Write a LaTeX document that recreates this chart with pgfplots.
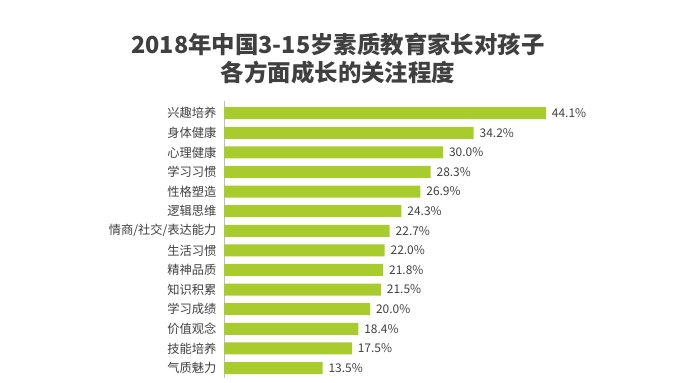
\documentclass[border=0pt]{standalone}
\usepackage{pgfplots}
\pgfplotsset{compat=1.18}
\usepackage{fontspec}
\setmainfont{Noto Sans CJK SC}
\definecolor{barg}{RGB}{168,204,46}
\definecolor{txt}{RGB}{64,64,64}
\definecolor{axg}{RGB}{191,191,191}
\pgfplotstableread{
y v
0 13.5
1 17.5
2 18.4
3 20.0
4 21.5
5 21.8
6 22.0
7 22.7
8 24.3
9 26.9
10 28.3
11 30.0
12 34.2
13 44.1
}\datatab
\begin{document}
\begin{tikzpicture}[x=1bp,y=1bp]
\path[use as bounding box] (0,0) rectangle (677,382);
\node[font=\bfseries\fontsize{23.5}{27.5}\selectfont, align=center, text=txt] at (338,323.5) {2018年中国3-15岁素质教育家长对孩子\\各方面成长的关注程度};
\begin{axis}[
  at={(224bp,4.2bp)}, anchor=south west,
  scale only axis, width=365bp, height=276.4bp,
  xmin=0, xmax=50, ymin=-0.5, ymax=13.6,
  xbar, bar width=12bp, bar shift=0pt,
  axis x line=none,
  axis y line*=left,
  y axis line style={draw=axg, line width=0.8pt, -},
  ytick={0,...,13},
  yticklabels={气质魅力,技能培养,价值观念,学习成绩,知识积累,精神品质,生活习惯,情商/社交/表达能力,逻辑思维,性格塑造,学习习惯,心理健康,身体健康,兴趣培养},
  yticklabel style={font=\fontsize{12.3}{14}\selectfont, text=txt, xshift=-4bp},
  major tick length=0pt,
  ytick style={draw=none},
  /pgf/number format/assume math mode=true,
  nodes near coords={\pgfmathprintnumber[fixed,precision=1,fixed zerofill]{\pgfplotspointmeta}\%},
  nodes near coords style={font=\fontsize{12}{14}\selectfont, text=txt, anchor=west, xshift=2.5bp},
  point meta=explicit,
  clip=false,
]
\addplot[fill=barg, draw=none] table[x=v, y=y, meta=v] {\datatab};
\end{axis}
\end{tikzpicture}
\end{document}
